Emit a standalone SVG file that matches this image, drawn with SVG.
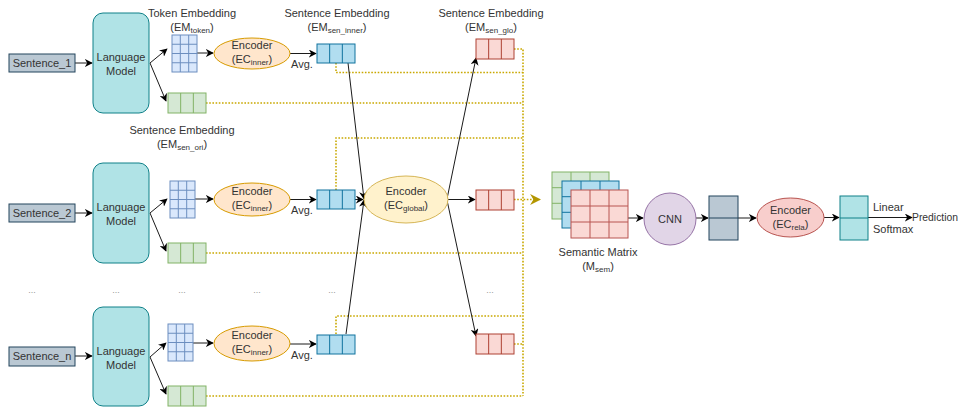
<svg xmlns="http://www.w3.org/2000/svg" width="959" height="407" viewBox="0 0 959 407">
  <defs>
    <style>
      text { font-family: "Liberation Sans", Arial, sans-serif; font-size: 11px; fill: #333; }
      .mid { text-anchor: middle; }
      .sub { font-size: 8px; }
      .dots { font-size: 9px; fill: #999; text-anchor: middle; }
      .sent { fill: #bac8d3; stroke: #23445d; stroke-width: 1; }
      .lm { fill: #b0e3e6; stroke: #0e8088; stroke-width: 1; }
      .tok { fill: #dae8fc; stroke: #6c8ebf; stroke-width: 1; }
      .grn { fill: #d5e8d4; stroke: #82b366; stroke-width: 1; }
      .blu { fill: #b1ddf0; stroke: #10739e; stroke-width: 1; }
      .red { fill: #fad9d5; stroke: #ae4132; stroke-width: 1; }
      .encI { fill: #ffe6cc; stroke: #d79b00; stroke-width: 1; }
      .encG { fill: #fff2cc; stroke: #d6b656; stroke-width: 1; }
      .encR { fill: #f8cecc; stroke: #b85450; stroke-width: 1; }
      .cnn { fill: #e1d5e7; stroke: #9673a6; stroke-width: 1; }
      .edge { fill: none; stroke: #1a1a1a; stroke-width: 1; marker-end: url(#arr); }
      .dot { fill: none; stroke: #c9a800; stroke-width: 1.6; stroke-dasharray: 1.6 1.6; }
    </style>
    <marker id="arr" viewBox="0 0 10 10" refX="9" refY="5" markerWidth="8" markerHeight="8" orient="auto" markerUnits="userSpaceOnUse">
      <path d="M0,0 L10,5 L0,10 L3,5 z" fill="#000"/>
    </marker>
    <marker id="garr" viewBox="0 0 10 10" refX="9" refY="5" markerWidth="11" markerHeight="11" orient="auto" markerUnits="userSpaceOnUse">
      <path d="M0,0 L10,5 L0,10 L3,5 z" fill="#b39600"/>
    </marker>
    <!-- token embedding grid: 3 columns x 4 rows -->
    <g id="tokGrid">
      <rect class="tok" x="0" y="0" width="25" height="37"/>
      <path d="M8.3,0 V37 M16.7,0 V37 M0,9.25 H25 M0,18.5 H25 M0,27.75 H25" stroke="#6c8ebf" fill="none"/>
    </g>
    <!-- 3-cell vector strips -->
    <g id="grnVec">
      <rect class="grn" x="0" y="0" width="38" height="20"/>
      <path d="M12.67,0 V20 M25.33,0 V20" stroke="#82b366"/>
    </g>
    <g id="bluVec">
      <rect class="blu" x="0" y="0" width="38" height="19"/>
      <path d="M12.67,0 V19 M25.33,0 V19" stroke="#10739e"/>
    </g>
    <g id="redVec">
      <rect class="red" x="0" y="0" width="38" height="20"/>
      <path d="M12.67,0 V20 M25.33,0 V20" stroke="#ae4132"/>
    </g>
  </defs>

  <rect width="959" height="407" fill="#fff"/>

  <!-- connectors -->
  <g id="connectors">
    <!-- dotted routes into the semantic matrix -->
    <path class="dot" d="M336,63 V72.5 H523"/>
    <path class="dot" d="M206,103 H523"/>
    <path class="dot" d="M336,190 V138 H523"/>
    <path class="dot" d="M206,253 H523"/>
    <path class="dot" d="M336,334 V316 H523"/>
    <path class="dot" d="M206,396 H523"/>
    <path class="dot" d="M514,49 H523 V396"/>
    <path class="dot" d="M514,344 H523"/>
    <path class="dot" d="M514,199.5 H540" marker-end="url(#garr)"/>

    <!-- row 1 -->
    <path class="edge" d="M75,63 H92"/>
    <path class="edge" d="M150,63 L167,49"/>
    <path class="edge" d="M150,63 L166,101"/>
    <path class="edge" d="M197,53 H213"/>
    <path class="edge" d="M290,53.5 H316"/>
    <!-- row 2 -->
    <path class="edge" d="M75,213 H92"/>
    <path class="edge" d="M150,213 L167,199"/>
    <path class="edge" d="M150,213 L166,251"/>
    <path class="edge" d="M194,199 H213"/>
    <path class="edge" d="M290,199.5 H316"/>
    <!-- row n -->
    <path class="edge" d="M75,356 H92"/>
    <path class="edge" d="M150,357 L166,343"/>
    <path class="edge" d="M150,357 L166,394"/>
    <path class="edge" d="M192,343 H213"/>
    <path class="edge" d="M290,344 H316"/>

    <!-- into the global encoder -->
    <path class="edge" d="M348,63 L364,199"/>
    <path class="edge" d="M355,199.5 H363"/>
    <path class="edge" d="M346,334 L364,200"/>
    <!-- out of the global encoder -->
    <path class="edge" d="M447,199 L476,58"/>
    <path class="edge" d="M448,199.5 H475"/>
    <path class="edge" d="M447,200 L476,336"/>

    <!-- right-hand chain -->
    <path class="edge" d="M628,218 H643"/>
    <path class="edge" d="M696,218 H708"/>
    <path class="edge" d="M738,218 H756"/>
    <path class="edge" d="M824,217.5 H839"/>
    <path class="edge" d="M868,217.5 H912"/>
  </g>

  <!-- inputs -->
  <g id="sentence1"><rect class="sent" x="9" y="54" width="66" height="18"/><text class="mid" x="42" y="67">Sentence_1</text></g>
  <g id="sentence2"><rect class="sent" x="9" y="204" width="66" height="18"/><text class="mid" x="42" y="217">Sentence_2</text></g>
  <g id="sentenceN"><rect class="sent" x="9" y="347" width="66" height="19"/><text class="mid" x="42" y="360">Sentence_n</text></g>

  <!-- language models -->
  <g id="lm1"><rect class="lm" x="93" y="13" width="56" height="100" rx="10"/><text class="mid" x="121" y="61">Language</text><text class="mid" x="121" y="75">Model</text></g>
  <g id="lm2"><rect class="lm" x="93" y="163" width="56" height="100" rx="10"/><text class="mid" x="121" y="211">Language</text><text class="mid" x="121" y="225">Model</text></g>
  <g id="lm3"><rect class="lm" x="93" y="307" width="56" height="99" rx="10"/><text class="mid" x="121" y="355">Language</text><text class="mid" x="121" y="369">Model</text></g>

  <!-- token embeddings -->
  <g id="tok1"><use href="#tokGrid" x="172" y="35"/></g>
  <g id="tok2"><use href="#tokGrid" x="170" y="181"/></g>
  <g id="tok3"><use href="#tokGrid" x="168" y="324"/></g>

  <!-- original sentence embeddings -->
  <g id="ori1"><use href="#grnVec" x="168" y="93"/></g>
  <g id="ori2"><use href="#grnVec" x="168" y="243"/></g>
  <g id="ori3"><use href="#grnVec" x="168" y="386"/></g>

  <!-- inner encoders -->
  <g id="encInner1"><ellipse class="encI" cx="252" cy="53.5" rx="38" ry="15.5"/><text class="mid" x="252" y="49">Encoder</text><text class="mid" x="252" y="63">(EC<tspan class="sub" dy="2">inner</tspan><tspan dy="-2">)</tspan></text></g>
  <g id="encInner2"><ellipse class="encI" cx="252" cy="199.5" rx="38" ry="16.5"/><text class="mid" x="252" y="195">Encoder</text><text class="mid" x="252" y="209">(EC<tspan class="sub" dy="2">inner</tspan><tspan dy="-2">)</tspan></text></g>
  <g id="encInner3"><ellipse class="encI" cx="252" cy="343.5" rx="38" ry="17.5"/><text class="mid" x="252" y="339">Encoder</text><text class="mid" x="252" y="353">(EC<tspan class="sub" dy="2">inner</tspan><tspan dy="-2">)</tspan></text></g>

  <!-- averaging labels -->
  <g id="avgLabels">
    <text x="291" y="68">Avg.</text>
    <text x="291" y="214">Avg.</text>
    <text x="291" y="359">Avg.</text>
  </g>

  <!-- inner sentence embeddings -->
  <g id="inner1"><use href="#bluVec" x="317" y="44"/></g>
  <g id="inner2"><use href="#bluVec" x="317" y="190"/></g>
  <g id="inner3"><use href="#bluVec" x="317" y="335"/></g>

  <!-- global encoder -->
  <g id="encGlobal"><ellipse class="encG" cx="406" cy="199.5" rx="42" ry="23.5"/><text class="mid" x="406" y="195">Encoder</text><text class="mid" x="406" y="209">(EC<tspan class="sub" dy="2">global</tspan><tspan dy="-2">)</tspan></text></g>

  <!-- global sentence embeddings -->
  <g id="glo1"><use href="#redVec" x="476" y="39"/></g>
  <g id="glo2"><use href="#redVec" x="476" y="190"/></g>
  <g id="glo3"><use href="#redVec" x="476" y="334"/></g>

  <!-- column labels -->
  <g id="labelToken"><text class="mid" x="192" y="17">Token Embedding</text><text class="mid" x="192" y="31">(EM<tspan class="sub" dy="2">token</tspan><tspan dy="-2">)</tspan></text></g>
  <g id="labelInner"><text class="mid" x="337" y="17">Sentence Embedding</text><text class="mid" x="337" y="31">(EM<tspan class="sub" dy="2">sen_inner</tspan><tspan dy="-2">)</tspan></text></g>
  <g id="labelGlo"><text class="mid" x="491" y="17">Sentence Embedding</text><text class="mid" x="491" y="31">(EM<tspan class="sub" dy="2">sen_glo</tspan><tspan dy="-2">)</tspan></text></g>
  <g id="labelOri"><text class="mid" x="182" y="134">Sentence Embedding</text><text class="mid" x="182" y="148">(EM<tspan class="sub" dy="2">sen_ori</tspan><tspan dy="-2">)</tspan></text></g>

  <!-- ellipsis markers -->
  <g id="ellipses">
    <text class="dots" x="32" y="293">...</text>
    <text class="dots" x="116" y="293">...</text>
    <text class="dots" x="182" y="293">...</text>
    <text class="dots" x="257" y="293">...</text>
    <text class="dots" x="332" y="293">...</text>
    <text class="dots" x="490" y="293">...</text>
  </g>

  <!-- semantic matrix: three stacked 3x3 layers -->
  <g id="semMatrix">
    <rect class="grn" x="552" y="172" width="57" height="47"/>
    <path d="M571,172 V219 M590,172 V219 M552,187.7 H609 M552,203.3 H609" stroke="#82b366" fill="none"/>
    <rect class="blu" x="562" y="181" width="57" height="47"/>
    <path d="M581,181 V228 M600,181 V228 M562,196.7 H619 M562,212.3 H619" stroke="#10739e" fill="none"/>
    <rect fill="#fad9d5" stroke="#b85450" x="571" y="190" width="57" height="48"/>
    <path d="M590,190 V238 M609,190 V238 M571,206 H628 M571,222 H628" stroke="#b85450" fill="none"/>
    <text class="mid" x="598" y="256">Semantic Matrix</text>
    <text class="mid" x="598" y="270">(M<tspan class="sub" dy="2">sem</tspan><tspan dy="-2">)</tspan></text>
  </g>

  <!-- CNN -->
  <g id="cnn"><circle class="cnn" cx="670" cy="219" r="26"/><text class="mid" x="670" y="223">CNN</text></g>

  <!-- pooled feature -->
  <g id="feature"><rect class="sent" x="709" y="196" width="29" height="44"/><path d="M709,218 H738" stroke="#23445d"/></g>

  <!-- relation encoder -->
  <g id="encRela"><ellipse class="encR" cx="790.5" cy="217.5" rx="33.5" ry="19.5"/><text class="mid" x="790.5" y="214">Encoder</text><text class="mid" x="790.5" y="228">(EC<tspan class="sub" dy="2">rela</tspan><tspan dy="-2">)</tspan></text></g>

  <!-- output representation -->
  <g id="output"><rect class="lm" x="840" y="196" width="28" height="44"/><path d="M840,218 H868" stroke="#0e8088"/></g>

  <!-- classifier head -->
  <g id="head">
    <text x="873" y="211">Linear</text>
    <text x="873" y="233">Softmax</text>
    <text x="912" y="221" textLength="46" lengthAdjust="spacingAndGlyphs">Prediction</text>
  </g>
</svg>
